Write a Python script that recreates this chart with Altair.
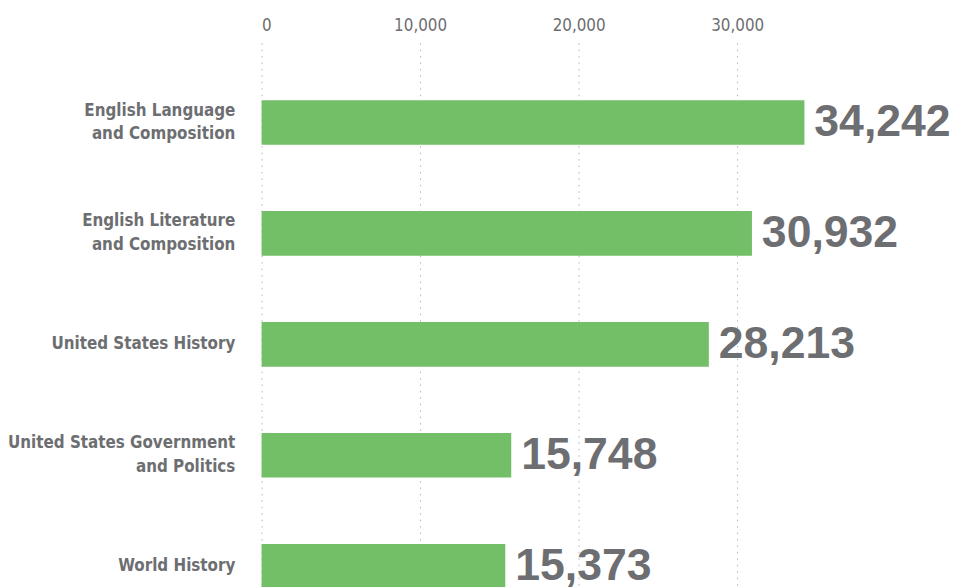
import altair as alt
import pandas as pd

subjects = [
    "English Language|and Composition",
    "English Literature|and Composition",
    "United States History",
    "United States Government|and Politics",
    "World History",
]
counts = [34242, 30932, 28213, 15748, 15373]
x_ticks = [0, 10000, 20000, 30000]

GRAY = "#6d6e71"
GREEN = "#72bf67"
NARROW = "DejaVu Sans Condensed, sans-serif"

df = pd.DataFrame({"subject": subjects, "count": counts})
base = alt.Chart(df)

y = alt.Y(
    "subject:N",
    sort=subjects,
    title=None,
    scale=alt.Scale(paddingInner=0.598, paddingOuter=0.518, round=False),
    axis=alt.Axis(
        labelExpr="split(datum.label, '|')",
        labelFont=NARROW,
        labelFontSize=17,
        labelFontWeight="bold",
        labelColor=GRAY,
        labelPadding=27,
        labelLineHeight=24,
        labelLimit=400,
        labelOffset={"condition": {"test": "indexof(datum.value, '|') >= 0", "value": -12}, "value": 0},
        ticks=False,
        domain=False,
        grid=False,
    ),
)
x = alt.X(
    "count:Q",
    title=None,
    scale=alt.Scale(domain=[0, max(counts)], nice=False),
    axis=alt.Axis(
        orient="top",
        values=x_ticks,
        format=",d",
        grid=True,
        gridDash=[1.5, 5],
        gridColor="#b5b5b5",
        gridWidth=1,
        ticks=False,
        domain=False,
        labelFont=NARROW,
        labelFontSize=17,
        labelColor=GRAY,
        labelPadding=8,
    ),
)

bars = base.mark_bar(color=GREEN).encode(x=x, y=y)
text = base.mark_text(
    align="left", baseline="middle", dx=10, fontSize=45, fontWeight="bold",
    font="Liberation Sans, Arial, sans-serif", color=GRAY,
).encode(
    x="count:Q",
    y=alt.Y("subject:N", sort=subjects),
    text=alt.Text("count:Q", format=",d"),
)

chart = (
    (bars + text)
    .properties(
        width=548,
        height=609,
        padding={"left": 256, "top": 32, "right": 150, "bottom": 0},
        autosize=alt.AutoSizeParams(type="none"),
    )
    .configure_view(stroke=None)
)

chart.save("out.html", embed_options={"renderer": "svg", "actions": False})
